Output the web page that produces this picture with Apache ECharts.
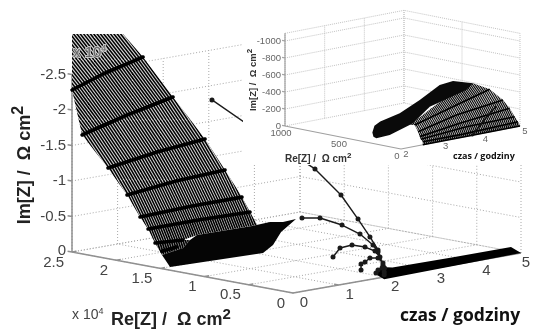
<!DOCTYPE html>
<html><head><meta charset="utf-8">
<style>html,body{margin:0;padding:0;background:#fff}#c{width:533px;height:331px;filter:blur(0.4px)}</style>
<script src="https://cdn.jsdelivr.net/npm/echarts@6/dist/echarts.min.js"></script>
</head><body><div id="c"></div>
<script>
// ---------- data: main plot, points are [time h, Re / 1e4, -Im / 1e4] ----------
const mainTimeTicks=[0,1,2,3,4,5];
const mainReTicks=[0,0.5,1,1.5,2,2.5];
const mainImTicks=[0,0.5,1,1.5,2,2.5];
const mainImLabels=['0','-0.5','-1','-1.5','-2','-2.5'];
const level0=[[.2,2.603,3.024],[1.7,2.8,2.81]];
const level1=[[.2,2.603,2.235],[.95,2.639,2.368],[1.7,2.573,2.538]];
const level2=[[.2,2.489,1.628],[.95,2.368,1.853],[1.7,2.234,2.053]];
const level3=[[.2,2.196,1.231],[.95,2.028,1.41],[1.7,1.872,1.545]];
const level4=[[.2,1.981,.9],[.95,1.813,1.052],[1.7,1.646,1.161]];
const level5=[[.2,1.834,.624],[.95,1.632,.741],[1.7,1.454,.823]];
const level6=[[.2,1.743,.476],[.95,1.564,.56],[1.7,1.363,.634]];
const level7=[[.2,1.664,.297],[.2,1.347,.413],[.95,1.576,.346],[1.7,1.282,.47]];
const lowerPatch=[[.2,1.664,.297],[.2,1.347,.413],[.2,1.268,.431],[.2,1.347,.3],[.2,1.585,.146]];
const shortLine7=[[.2,1.664,.297],[.2,1.347,.413]];
const shortLine8=[[.2,1.585,.2],[.2,1.417,.3]];
const denseRegion=[[.2,1.494,0],[.2,1.585,.146],[.2,1.347,.3],[.2,1.268,.431],[.95,1.576,.346],[1.7,1.34,.442],[1.7,1.137,.546],[1.7,.99,.58],[1.7,.843,.656],[1.7,1.012,.434],[1.7,1.103,.23],[1.7,1.216,.09]];
const arcA=[[2,1.948,2.044],[2,1.292,1.631],[2,.783,1.341],[2,.489,1.042],[2,.296,.748],[2,.161,.527],[2,.07,.365],[2,.014,.163],[2,0,.03]];
const arcB=[[2,.93,.616],[2,.726,.663],[2,.477,.622],[2,.274,.542],[2,.127,.421],[2,.07,.337],[2,0,.127]];
const arcC=[[2,.579,.148],[2,.5,.293],[2,.364,.366],[2,.217,.372],[2,.104,.342],[2,.048,.27],[2,0,.127]];
const arcD=[[2,.262,.038],[2,.262,.123],[2,.217,.161],[2,.161,.231],[2,.07,.252],[2,.014,.194],[2,0,.127]];
const arcE=[[2,.093,.035],[2,.07,.083],[2,.025,.121],[2,0,.07]];
const lateBand=[[2,.1,.02],[2,0,-.03],[5,0,0],[4.8,.01,.105],[3.5,.01,.105],[2.2,.01,.11],[2,.04,.13]];
// ---------- data: inset, points are [time h, Re, -Im] ----------
const insetTimeTicks=[2,3,4,5];
const insetReTicks=[0,500,1000];
const insetImTicks=[0,200,400,600,800,1000];
const insetImLabels=['0','-200','-400','-600','-800','-1000'];
const insetImTop=1090;
const insetTop=[[2.5,96,212],[3.75,208,401],[5,405,393]];
const insetT1=[[2.5,53,224],[3.75,178,273],[5,261,361]];
const insetT2=[[2.5,24,152],[3.75,122,209],[5,147,266]];
const insetT3=[[2.5,9,98],[3.75,92,120],[5,89,185]];
const insetT4=[[2.5,0,69],[3.75,35,95],[5,46,96]];
const insetT5=[[2.55,0,35],[3.75,64,0],[5,17,46]];
const insetBottom=[[2.55,0,0],[3.8,0,0],[5,0,0]];
const insetDense=[[2.5,418,35],[2.5,400,120],[2.5,350,185],[2.5,182,326],[3.75,437,301],[3.75,265,523],[3.75,150,601],[5,405,393],[5,463,299],[3.75,351,245],[3.75,495,11],[2.5,268,47],[2.2,281,33],[2.3,340,25]];
const insetDent=[[3.8,0,0],[4,0,102],[4.2,0,201],[4.4,8,272]];

// ---------- oblique projections of the two 3-D boxes onto the page axes ----------
const mainView={ox:293,oy:293,tx:45.6,ty:8,rx:88.4,ry:16.4,iy:71};
const insetView={ox:321.66,oy:164.34,tx:39.67,ty:7.67,rx:.116,ry:.023,iy:.085};
const proj=(v,p)=>[v.ox+v.tx*p[0]-v.rx*p[1],v.oy-v.ty*p[0]-v.ry*p[1]-v.iy*p[2]];

// seamless tile of slanted strokes (the fine mesh of the surface, as a fill style)
function hatch(angleDeg,period,lineW,light){
  const H=60;
  const shift=H/Math.tan(angleDeg*Math.PI/180);
  const n=Math.max(1,Math.round(shift/period));
  const W=Math.round(shift);
  const p=W/n;
  const c=document.createElement('canvas');c.width=W;c.height=H;
  const g=c.getContext('2d');g.fillStyle=light;g.fillRect(0,0,W,H);
  g.strokeStyle='#000';g.lineWidth=lineW;
  for(let x=-2*W;x<2*W;x+=p){g.beginPath();g.moveTo(x,-0);g.lineTo(x+W,H);g.stroke();}
  return {image:c,repeat:'repeat'};
}
const noAnim={animation:false,silent:true};
function paths(view,list,style,z,dots){
  const data=[];
  list.forEach(path=>{path.forEach(p=>data.push(proj(view,p)));data.push(['-','-']);});
  return {type:'line',data,z,...noAnim,connectNulls:false,showSymbol:!!dots,symbol:'circle',symbolSize:dots||0,
    itemStyle:{color:style.color},lineStyle:style};
}
function polys(view,list,z){
  return {type:'custom',z,...noAnim,data:list.map((_,i)=>[i,0]),clip:false,
    renderItem:(params,api)=>{const it=list[params.dataIndex];
      return {type:'polygon',shape:{points:it.pts.map(p=>api.coord(proj(view,p)))},style:{fill:it.fill}};}};
}
function texts(list,z){
  return {type:'custom',z,...noAnim,data:list.map(t=>[t.x,t.y]),clip:false,
    renderItem:(params,api)=>{const t=list[params.dataIndex];const c=api.coord([t.x,t.y]);
      return {type:'text',x:c[0],y:c[1],rotation:t.rot||0,z2:10,
        style:{text:t.text,font:t.font,fill:t.fill||'#444',align:t.align||'center',verticalAlign:'middle',rich:t.rich,
          stroke:t.halo||null,lineWidth:t.halo?2:0}};}};
}
const band=(a,b)=>a.concat(b.slice().reverse());
const band2=(a,b,ang,per,lw,light)=>({pts:band(a,b),fill:hatch(ang,per,lw,light||'#d8d8d8')});

// ---------- main box ----------
const mainReMax=2.5,mainTMax=5,mainIMax=2.5;
const mainGrid=[];
mainTimeTicks.forEach(t=>{mainGrid.push([[t,0,0],[t,mainReMax,0]]);mainGrid.push([[t,mainReMax,0],[t,mainReMax,mainIMax]]);});
mainReTicks.forEach(r=>{mainGrid.push([[0,r,0],[mainTMax,r,0]]);mainGrid.push([[mainTMax,r,0],[mainTMax,r,mainIMax]]);});
mainImTicks.forEach(i=>{mainGrid.push([[0,mainReMax,i],[mainTMax,mainReMax,i]]);mainGrid.push([[mainTMax,mainReMax,i],[mainTMax,0,i]]);});
const mainAxes=[[[0,mainReMax,mainIMax],[0,mainReMax,0],[0,0,0],[mainTMax,0,0]]];
mainImTicks.forEach(i=>mainAxes.push([[0,2.55,i],[0,2.5,i]]));
mainReTicks.forEach(r=>mainAxes.push([[0,r,0],[.1,r,0]]));
mainTimeTicks.forEach(t=>mainAxes.push([[t,0,0],[t,.05,0]]));

const mainBands=[
 band2(level0,level1,52,3.4,1.5),band2(level1,level2,54,3.2,1.5),band2(level2,level3,56,3,1.5),
 band2(level3,level4,60,2.8,1.5),band2(level4,level5,64,2.7,1.5),band2(level5,level6,66,2.5,1.5),
 band2(level6,level7,68,2.4,1.6),
 {pts:lowerPatch,fill:hatch(72,2.4,1.7,'#c4c4c4')},
 {pts:denseRegion,fill:'#050505'},
 {pts:lateBand,fill:'#000'}
];
const titleRich=(px)=>({s:{font:'bold '+px+'px "Liberation Sans"',fill:'#222',padding:[0,0,Math.round(px*.75),0]}});
const mainFont='15px "Liberation Sans"';
const mainTexts=[];
mainImTicks.forEach((v,i)=>{const p=proj(mainView,[0,mainReMax,v]);mainTexts.push({x:p[0]-6,y:p[1]-(v===0?1:0),text:mainImLabels[i],font:mainFont,align:'right'});});
mainReTicks.forEach(v=>{const p=proj(mainView,[0,v,0]);mainTexts.push({x:p[0]-8,y:p[1]+10.5,text:String(v),font:mainFont,align:'right'});});
mainTimeTicks.forEach(v=>{const p=proj(mainView,[v,0,0]);mainTexts.push({x:p[0]+(v===5?5:11),y:p[1]+10,text:String(v),font:mainFont});});
mainTexts.push({x:73,y:53,text:'x 10{m|4}',font:'15px "Liberation Sans"',fill:'#666',halo:'rgba(215,215,215,.85)',align:'left',rich:{m:{font:'9px "Liberation Sans"',fill:'#666',padding:[0,0,8,0]}}});
mainTexts.push({x:72,y:315,text:'x 10{m|4}',font:'14px "Liberation Sans"',fill:'#444',align:'left',rich:{m:{font:'9px "Liberation Sans"',fill:'#444',padding:[0,0,7,0]}}});
mainTexts.push({x:111,y:320,text:'Re[Z] /  Ω cm{s|2}',font:'bold 18px "Liberation Sans"',fill:'#222',align:'left',rich:titleRich(15)});
mainTexts.push({x:25,y:165,rot:Math.PI/2,text:'Im[Z] /  Ω cm{s|2}',font:'bold 18px "Liberation Sans"',fill:'#222',rich:titleRich(16)});
mainTexts.push({x:400,y:316,text:'czas / godziny',font:'bold 17.5px "Open Sans"',fill:'#111',align:'left'});

// ---------- inset box ----------
const iT0=2,iT1=5,iR=1000;
const insetGrid=[];
insetTimeTicks.forEach(t=>insetGrid.push([[t,iR,0],[t,iR,insetImTop]]));
insetReTicks.forEach(r=>insetGrid.push([[iT1,r,0],[iT1,r,insetImTop]]));
insetImTicks.concat([insetImTop]).forEach(i=>insetGrid.push([[iT0,iR,i],[iT1,iR,i],[iT1,0,i]]));
const insetAxes=[[[iT0,iR,insetImTop],[iT0,iR,0],[iT0,0,0],[iT1,0,0]]];
insetImTicks.forEach(i=>insetAxes.push([[iT0,1025,i],[iT0,iR,i]]));
const insetBands=[
 band2(insetTop,insetT1,55,2.2,1.1),band2(insetT1,insetT2,60,2.2,1.1),band2(insetT2,insetT3,62,2.1,1.1),
 band2(insetT3,insetT4,65,2,1.1),band2(insetT4,insetT5,68,2,1.2),band2(insetT5,insetBottom,70,1.9,1.3),
 {pts:insetDense,fill:'#0a0a0a'}
];
const insetFont='9.5px "Liberation Sans"';
const insetTexts=[];
insetImTicks.forEach((v,i)=>{const p=proj(insetView,[iT0,iR,v]);insetTexts.push({x:p[0]-4,y:p[1],text:insetImLabels[i],font:insetFont,fill:'#666',align:'right'});});
insetReTicks.forEach(v=>{const p=proj(insetView,[iT0,v,0]);insetTexts.push({x:p[0]-4,y:p[1]+7,text:String(v),font:insetFont,fill:'#666'});});
insetTimeTicks.forEach(v=>{const p=proj(insetView,[v,0,0]);insetTexts.push({x:p[0]+5,y:p[1]+5.5,text:String(v),font:insetFont,fill:'#666'});});
insetTexts.push({x:253,y:80,rot:Math.PI/2,text:'Im[Z] /  Ω cm{s|2}',font:'bold 9.5px "Liberation Sans"',fill:'#333',rich:titleRich(8)});
insetTexts.push({x:285,y:159,text:'Re[Z] /  Ω cm{s|2}',font:'bold 10px "Liberation Sans"',fill:'#333',align:'left',rich:titleRich(8)});
insetTexts.push({x:453,y:156,text:'czas / godziny',font:'bold 9px "Open Sans"',fill:'#111',align:'left'});

const whitePanel={type:'custom',z:5,...noAnim,data:[[243,0]],clip:false,renderItem:(p,api)=>{
  const a=api.coord([243,0]),b=api.coord([533,165]);
  return {type:'rect',shape:{x:a[0],y:a[1],width:b[0]-a[0],height:b[1]-a[1]},style:{fill:'#fff'}};}};

const chart=echarts.init(document.getElementById('c'),null,{renderer:'canvas'});
chart.setOption({
  animation:false,backgroundColor:'#fff',tooltip:{show:false},
  grid:{left:0,right:0,top:0,bottom:0},
  xAxis:{type:'value',min:0,max:533,show:false},
  yAxis:{type:'value',min:0,max:331,inverse:true,show:false},
  series:[
    paths(mainView,mainGrid,{color:'#a8a8a8',width:1,type:[1,2]},1),
    paths(mainView,mainAxes,{color:'#909090',width:1.5},1.5),
    polys(mainView,mainBands,2),
    paths(mainView,[level1,level2,level3,level4,level5,level6,shortLine7,shortLine8],{color:'#000',width:3.6,cap:'round',join:'round'},3),
    paths(mainView,[arcA,arcB,arcC,arcD,arcE],{color:'#1a1a1a',width:1.4},3,5),
    texts(mainTexts,4),
    whitePanel,
    paths(insetView,insetGrid,{color:'#c4c4c4',width:1,type:[1,1]},6),
    paths(insetView,insetAxes,{color:'#a0a0a0',width:1.2},6),
    polys(insetView,insetBands,7),
    paths(insetView,[insetT1,insetT2,insetT3,insetT4,insetT5,insetBottom],{color:'#000',width:1.6,join:'round'},8),
    paths(insetView,[insetDent],{color:'#111',width:1.5},8,2.5),
    texts(insetTexts,9)
  ]
});
</script></body></html>
